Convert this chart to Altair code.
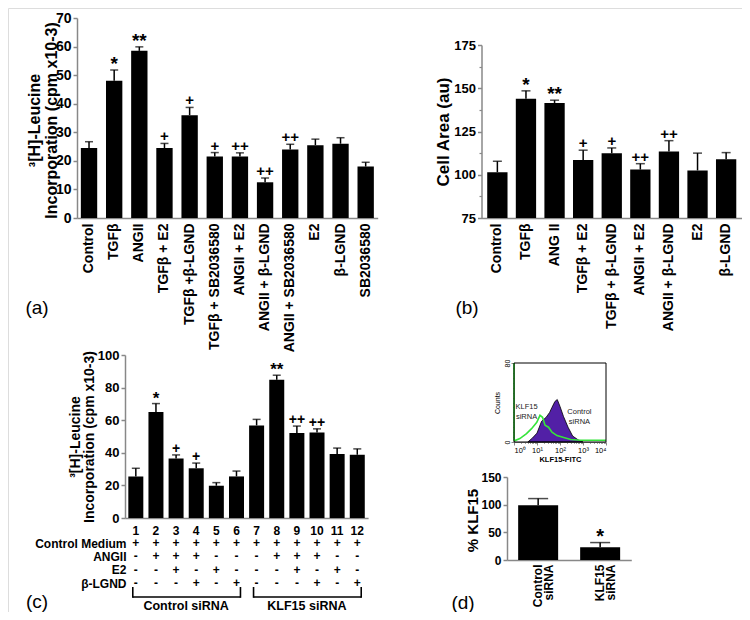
import altair as alt
import pandas as pd

FONT = "Liberation Sans"
W, H = 734, 604

# ---------------- data ----------------
a_groups = ["Control", "TGFβ", "ANGII", "TGFβ + E2", "TGFβ +β-LGND", "TGFβ + SB2036580",
            "ANGII + E2", "ANGII + β-LGND", "ANGII + SB2036580", "E2", "β-LGND", "SB2036580"]
a_mean = [24.5, 48, 58.5, 24.5, 36, 21.5, 21.5, 12.5, 24, 25.5, 26, 18]
a_err = [2.2, 3.8, 1.4, 1.6, 2.7, 1.4, 1.3, 1.5, 1.8, 2.1, 2.1, 1.5]
a_sig = ["", "*", "**", "+", "+", "+", "++", "++", "++", "", "", ""]

b_groups = ["Control", "TGFβ", "ANG II", "TGFβ + E2", "TGFβ + β-LGND", "ANGII + E2",
            "ANGII + β-LGND", "E2", "β-LGND"]
b_mean = [101.5, 144, 141.5, 108.5, 112.5, 103, 113.5, 102.5, 109]
b_err = [6.3, 4.5, 1.6, 5.7, 3.0, 3.4, 6.2, 10, 3.8]
b_sig = ["", "*", "**", "+", "+", "++", "++", "", ""]
b_minor = [87.5, 112.5, 137.5, 162.5]

c_lanes = [str(i) for i in range(1, 13)]
c_mean = [25.5, 65, 36.5, 30.5, 19.8, 25.5, 56.8, 84.8, 52.2, 52.5, 39.3, 38.8]
c_err = [5, 5.2, 2.2, 3.2, 1.9, 3.3, 3.7, 2.8, 4.2, 2.2, 3.6, 3.6]
c_sig = ["", "*", "+", "+", "", "", "", "**", "++", "++", "", ""]
c_rows = ["Control Medium", "ANGII", "E2", "β-LGND"]
c_table = ["++++++++++++",
           "-+++---+++--",
           "--+-+---+-+-",
           "---+-+---+-+"]
c_sets = ["Control siRNA", "KLF15 siRNA"]
c_set_first = [1, 7]
c_set_last = [6, 12]

d_groups = ["Control\nsiRNA", "KLF15\nsiRNA"]
d_mean = [99, 23]
d_err = [12, 8.5]
d_sig = ["", "*"]

# flow cytometry histogram (KLF15-FITC intensity vs counts)
flow_ctrl_x = [4.0, 6.3, 10, 15.8, 25, 35.5, 44.7, 60, 76, 100, 141, 224, 355, 631, 1000]
flow_ctrl_y = [0, 4, 9, 21, 25, 30, 35, 41, 43, 36, 26, 15, 6, 2, 0]
flow_klf_x = [1.0, 1.0, 1.1, 1.8, 3.5, 5.8, 9.8, 13.5, 17.4, 22.4, 31.6, 44.7, 74, 145, 290, 800, 3100, 10000]
flow_klf_y = [80, 2, 1.5, 3.5, 8.5, 13.5, 20, 27, 25, 17, 15, 10, 6.5, 4.5, 2.5, 1.8, 1.7, 1.7]
flow_minor_x = [m * d for d in (1, 10, 100, 1000) for m in range(2, 10)]
flow_minor_y = list(range(5, 80, 5))


def bar_panel(groups, mean, err, sig, xs, ys, xaxis, yaxis, cap, base=None, star=19, plus=15):
    df = pd.DataFrame({"g": groups, "m": mean,
                       "hi": [m + e for m, e in zip(mean, err)],
                       "st": [s if "*" in s else "" for s in sig],
                       "pl": [s if "+" in s else "" for s in sig]})
    ch = alt.Chart(df)

    def X(ax):
        return alt.X("g:N", scale=xs, axis=ax, sort=None)

    enc = dict(x=X(xaxis), y=alt.Y("m:Q", scale=ys, axis=yaxis))
    if base is not None:
        enc["y2"] = alt.datum(base)
    bars = ch.mark_bar(color="black").encode(**enc)
    rules = ch.mark_rule(color="black", strokeWidth=1.5).encode(
        x=X(None), y=alt.Y("m:Q", scale=ys, axis=None), y2="hi:Q")
    caps = ch.mark_tick(color="black", thickness=1.5, size=cap, orient="horizontal").encode(
        x=X(None), y=alt.Y("hi:Q", scale=ys, axis=None))
    stars = ch.mark_text(font=FONT, fontSize=star, fontWeight="bold", baseline="alphabetic",
                         dy=0, color="black").encode(
        x=X(None), y=alt.Y("hi:Q", scale=ys, axis=None), text="st:N")
    pluses = ch.mark_text(font=FONT, fontSize=plus, fontWeight="bold", baseline="alphabetic",
                          dy=-2, color="black").encode(
        x=X(None), y=alt.Y("hi:Q", scale=ys, axis=None), text="pl:N")
    return [rules, caps, bars, stars, pluses]


layers = []

# ---------------- panel (a) ----------------
ax_a = alt.Scale(type="band", domain=a_groups, range=[69, 369.7], paddingInner=0.35, paddingOuter=0.153)
ay_a = alt.Scale(domain=[0, 70], range=[210, 10], nice=False, zero=False)
layers += bar_panel(
    a_groups, a_mean, a_err, a_sig, ax_a, ay_a,
    alt.Axis(orient="bottom", offset=210 - H, title=None, labelAngle=-90, labelFontSize=14,
             labelFontWeight="bold", ticks=False, labelPadding=5, domainWidth=1.5, labelLimit=300),
    alt.Axis(orient="left", offset=-69, values=list(range(0, 71, 10)), tickSize=4, tickWidth=1.5,
             domainWidth=1.5, labelFontSize=14, labelFontWeight="bold", labelPadding=2,
             title=["³[H]-Leucine", "Incorporation (cpm x10-3)"], titleFontSize=16,
             titleFontWeight="bold", titleLineHeight=17, titleX=-35, titleY=112,
             titleAngle=270, titleBaseline="bottom", titleAlign="center"),
    8)

# ---------------- panel (b) ----------------
ax_b = alt.Scale(type="band", domain=b_groups, range=[473.5, 734], paddingInner=0.29, paddingOuter=0.2)
ay_b = alt.Scale(domain=[75, 175], range=[210, 37], nice=False, zero=False)
layers += bar_panel(
    b_groups, b_mean, b_err, b_sig, ax_b, ay_b,
    alt.Axis(orient="bottom", offset=210 - H, title=None, labelAngle=-90, labelFontSize=14,
             labelFontWeight="bold", ticks=False, labelPadding=5, domainWidth=1.5, labelLimit=300),
    alt.Axis(orient="left", offset=-473.5, values=list(range(75, 176, 25)), tickSize=4, tickWidth=1.5,
             domainWidth=1.5, labelFontSize=13, labelFontWeight="bold", labelPadding=2,
             title="Cell Area (au)", titleFontSize=17, titleFontWeight="bold",
             titleX=-29, titleY=123.5, titleAngle=270, titleBaseline="bottom", titleAlign="center"),
    9, base=75)
layers.append(
    alt.Chart(pd.DataFrame({"v": b_minor})).mark_point(opacity=0).encode(
        y=alt.Y("v:Q", scale=ay_b,
                axis=alt.Axis(orient="left", offset=-473.5, values=b_minor, labels=False,
                              domain=False, tickSize=2.5, tickWidth=1.2, title=None))))

# ---------------- panel (c) ----------------
ax_c = alt.Scale(type="band", domain=c_lanes, range=[117, 360.1], paddingInner=0.255, paddingOuter=0.165)
ay_c = alt.Scale(domain=[0, 100], range=[510, 347], nice=False, zero=False)
layers += bar_panel(
    c_lanes, c_mean, c_err, c_sig, ax_c, ay_c,
    alt.Axis(orient="bottom", offset=510 - H, title=None, labelAngle=0, labelFontSize=12,
             labelFontWeight="bold", ticks=False, labelPadding=7, domainWidth=1.5),
    alt.Axis(orient="left", offset=-117, values=list(range(0, 101, 20)), tickSize=4, tickWidth=1.5,
             domainWidth=1.5, labelFontSize=13, labelFontWeight="bold", labelPadding=2,
             title=["³[H]-Leucine", "Incorporation (cpm x10-3)"], titleFontSize=14,
             titleFontWeight="bold", titleLineHeight=14, titleX=-43, titleY=428.5,
             titleAngle=270, titleBaseline="bottom", titleAlign="center"),
    8, star=17, plus=14)

# treatment table under panel (c)
tab = pd.DataFrame([{"lane": c_lanes[j], "row": r, "sym": c_table[i][j]}
                    for i, r in enumerate(c_rows) for j in range(12)])
row_scale = alt.Scale(type="point", domain=c_rows, range=[535, 575], padding=0)
layers.append(
    alt.Chart(tab).mark_text(font=FONT, fontSize=12, fontWeight="bold", baseline="middle",
                             color="black").encode(
        x=alt.X("lane:N", scale=ax_c, axis=None, sort=None),
        y=alt.Y("row:N", scale=row_scale, sort=None,
                axis=alt.Axis(orient="left", offset=-121, domain=False, ticks=False, tickSize=0,
                              labelPadding=3, labelFontSize=12, labelFontWeight="bold",
                              title=None)),
        text="sym:N"))

# siRNA brackets
lane_lin = alt.Scale(domain=[1, 12], range=[127.8, 349.2], zero=False, nice=False)
br = pd.DataFrame({"set": c_sets,
                   "s": [f - 0.15 for f in c_set_first],
                   "e": [l + 0.2 for l in c_set_last],
                   "mid": [(f + l) / 2 for f, l in zip(c_set_first, c_set_last)]})
brc = alt.Chart(br)
layers.append(brc.mark_rule(color="black", strokeWidth=1.6).encode(
    x=alt.X("s:Q", scale=lane_lin, axis=None), x2="e:Q", y=alt.value(589)))
layers.append(brc.mark_rule(color="black", strokeWidth=1.6).encode(
    x=alt.X("s:Q", scale=lane_lin, axis=None), y=alt.value(579), y2=alt.value(589.8)))
layers.append(brc.mark_rule(color="black", strokeWidth=1.6).encode(
    x=alt.X("e:Q", scale=lane_lin, axis=None), y=alt.value(579), y2=alt.value(589.8)))
layers.append(brc.mark_text(font=FONT, fontSize=12.5, fontWeight="bold", baseline="middle",
                            color="black").encode(
    x=alt.X("mid:Q", scale=lane_lin, axis=None), y=alt.value(597.5), text="set:N"))

# ---------------- panel (d) bars ----------------
ax_d = alt.Scale(type="band", domain=d_groups, range=[499, 623.3], paddingInner=0.355, paddingOuter=0.18)
ay_d = alt.Scale(domain=[0, 150], range=[552, 469], nice=False, zero=False)
layers += bar_panel(
    d_groups, d_mean, d_err, d_sig, ax_d, ay_d,
    alt.Axis(orient="bottom", offset=552 - H, title=None, labelAngle=-90, labelFontSize=12,
             labelFontWeight="bold", ticks=False, labelPadding=4, domainWidth=1.5,
             labelExpr="split(datum.label, '\\n')", labelLineHeight=11),
    alt.Axis(orient="left", offset=-499, values=[0, 50, 100, 150], tickSize=4, tickWidth=1.5,
             domainWidth=1.5, labelFontSize=12, labelFontWeight="bold", labelPadding=2,
             title="% KLF15", titleFontSize=15, titleFontWeight="bold",
             titleX=-26.5, titleY=512, titleAngle=270, titleBaseline="bottom", titleAlign="center"),
    20, star=20)

# ---------------- panel (d) flow cytometry inset ----------------
fx = alt.Scale(type="log", domain=[1, 10000], range=[506, 598], nice=False)
fy = alt.Scale(domain=[0, 80], range=[434, 355], nice=False, zero=False)
fctrl = pd.DataFrame({"x": flow_ctrl_x, "y": flow_ctrl_y})
fklf = pd.DataFrame({"x": flow_klf_x, "y": flow_klf_y, "i": list(range(len(flow_klf_x)))})
layers.append(alt.Chart(fctrl).mark_area(color="#5220a6", stroke="black", strokeWidth=0.8).encode(
    x=alt.X("x:Q", scale=fx,
            axis=alt.Axis(orient="bottom", offset=434 - H, values=[1, 10, 100, 1000, 10000],
                          labelExpr="'10' + ['⁰','¹','²','³','⁴'][round(log(datum.value)/LN10)]",
                          labelFontSize=7.5, tickSize=3, tickWidth=1, domainWidth=1, labelPadding=1,
                          title="KLF15-FITC", titleFontSize=7.5, titleFontWeight="bold",
                          titlePadding=2)),
    y=alt.Y("y:Q", scale=fy,
            axis=alt.Axis(orient="left", offset=-506, values=[0, 80], labelAngle=-90,
                          labelFontSize=7, tickSize=3, tickWidth=1, domainWidth=1, labelPadding=1,
                          title="Counts", titleFontSize=7, titleFontWeight="normal",
                          titlePadding=3))))
layers.append(alt.Chart(fklf).mark_line(color="#35e43a", strokeWidth=1.6).encode(
    x=alt.X("x:Q", scale=fx, axis=None), y=alt.Y("y:Q", scale=fy, axis=None),
    order="i:Q"))
layers.append(alt.Chart(pd.DataFrame({"k": [0]})).mark_rect(
    fillOpacity=0, stroke="black", strokeWidth=1).encode(
    x=alt.XDatum(1, type="quantitative", scale=fx, axis=None),
    x2=alt.datum(10000),
    y=alt.YDatum(0, type="quantitative", scale=fy, axis=None),
    y2=alt.datum(80)))
layers.append(alt.Chart(pd.DataFrame({"v": flow_minor_x})).mark_point(opacity=0).encode(
    x=alt.X("v:Q", scale=fx,
            axis=alt.Axis(orient="bottom", offset=434 - H, values=flow_minor_x, labels=False,
                          domain=False, tickSize=1.5, tickWidth=0.8, title=None))))
layers.append(alt.Chart(pd.DataFrame({"v": flow_minor_y})).mark_point(opacity=0).encode(
    y=alt.Y("v:Q", scale=fy,
            axis=alt.Axis(orient="left", offset=-506, values=flow_minor_y, labels=False,
                          domain=False, tickSize=1.5, tickWidth=0.8, title=None))))
flab = pd.DataFrame({"t": ["KLF15\nsiRNA", "Control\nsiRNA"], "x": [3.5, 700], "y": [35, 30]})
layers.append(alt.Chart(flab).mark_text(font=FONT, fontSize=7.5, lineBreak="\n", color="#222222",
                                        baseline="middle").encode(
    x=alt.X("x:Q", scale=fx, axis=None), y=alt.Y("y:Q", scale=fy, axis=None), text="t:N"))

# ---------------- panel letters ----------------
for t, px, py in [("(a)", 29, 300), ("(b)", 459, 300), ("(c)", 29, 594), ("(d)", 455, 595)]:
    layers.append(alt.Chart(pd.DataFrame({"t": [t]})).mark_text(
        font=FONT, fontSize=19, baseline="middle", color="black").encode(
        text="t:N", x=alt.value(px), y=alt.value(py)))

chart = alt.layer(*layers).resolve_scale(x="independent", y="independent").properties(
    width=W, height=H, padding=0, autosize=alt.AutoSizeParams(type="none")
).configure_view(stroke=None).configure_axis(
    labelFont=FONT, titleFont=FONT, labelColor="black", titleColor="black",
    domainColor="black", tickColor="black", grid=False
).configure(background="white")

chart.save("out.html", embed_options={"renderer": "svg", "actions": False})
